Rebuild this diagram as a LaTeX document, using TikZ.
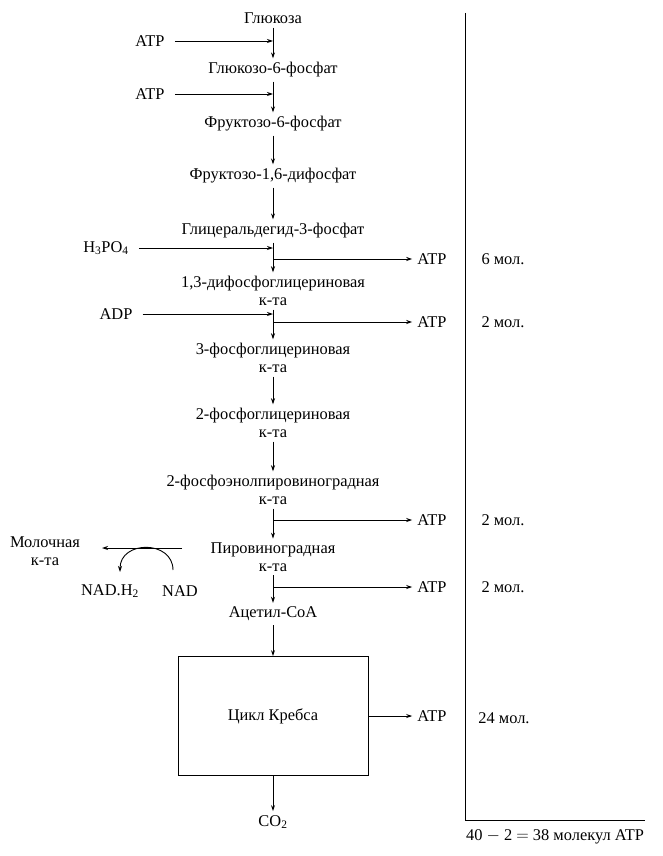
\documentclass[tikz,border=0pt]{standalone}
\usepackage{fontspec}
\setmainfont{Liberation Serif}
\usetikzlibrary{arrows.meta}
\begin{document}
\begin{tikzpicture}[x=1pt, y=-1pt, >={Stealth[length=6pt,width=4pt]},
				    met/.style={font=\fontsize{16.4}{17.5}\selectfont, align=center,
				    			  inner sep=1pt, text=black},
				    flow/.style={->, line width=0.9pt, shorten >=3pt, shorten <=3pt},
				    feed/.style={->, line width=0.9pt}]
	\useasboundingbox (0,0) rectangle (662,856);
	% main chain
	\node[met] (glc)  at (273, 18) {Глюкоза};
	\node[met] (g6p)  at (273, 70) {Глюкозо-6-фосфат};
	\node[met] (f6p)  at (273,124) {Фруктозо-6-фосфат};
	\node[met] (fdp)  at (273,176) {Фруктозо-1,6-дифосфат};
	\node[met] (gap)  at (273,231) {Глицеральдегид-3-фосфат};
	\node[met] (bpg)  at (273,291) {1,3-дифосфоглицериновая\\к-та};
	\node[met] (pg3)  at (273,358) {3-фосфоглицериновая\\к-та};
	\node[met] (pg2)  at (273,423) {2-фосфоглицериновая\\к-та};
	\node[met] (pep)  at (273,490) {2-фосфоэнолпировиноградная\\к-та};
	\node[met] (pyr)  at (273,557) {Пировиноградная\\к-та};
	\node[met] (acoa) at (273,614) {Ацетил-CoA};
	\node[met, draw, line width=0.9pt, minimum width=190pt, minimum height=119pt]
		(krebs) at (273,716) {Цикл Кребса};
	\node[met] (co2)  at (273,822) {CO\textsubscript{2}};
	% inputs
	\node[met] (atpa) at (150, 41) {ATP};
	\node[met] (atpb) at (150, 94) {ATP};
	\node[met] (h3po) at (106,248) {H\textsubscript{3}PO\textsubscript{4}};
	\node[met] (adp)  at (116,314) {ADP};
	\coordinate (ja) at (273, 41);
	\coordinate (jb) at (273, 94);
	\coordinate (jc) at (273,248);
	\coordinate (jd) at (273,314);
	% outputs
	\coordinate (oc) at (273,259);
	\coordinate (od) at (273,322);
	\coordinate (oe) at (273,520);
	\coordinate (of) at (273,587);
	\node[met] (atpc) at (432,259) {ATP};
	\node[met] (atpd) at (432,322) {ATP};
	\node[met] (atpe) at (432,520) {ATP};
	\node[met] (atpf) at (432,587) {ATP};
	\node[met] (atpg) at (432,716) {ATP};
	% lactate branch
	\node[met] (lac)  at (45,551) {Молочная\\к-та};
	\node[met] (nadh) at (110,591) {NAD.H\textsubscript{2}};
	\node[met] (nad)  at (180,591) {NAD};
	\coordinate (lacs) at (182,548);
	\coordinate (lace) at (102,548);
	\coordinate (nads) at (173,570);
	\coordinate (nadhe) at (120,572);
	% balance
	\node[met] (m6)  at (503,259) {6 мол.};
	\node[met] (m2a) at (503,322) {2 мол.};
	\node[met] (m2b) at (503,520) {2 мол.};
	\node[met] (m2c) at (503,587) {2 мол.};
	\node[met] (m24) at (504,718) {24 мол.};
	\node[met] (sum) at (555,837) {40 $-$ 2 $=$ 38 молекул ATP};
	\coordinate (bt) at (465, 13);
	\coordinate (bb) at (465,820);
	\coordinate (br) at (645,820);

	\path[flow] (glc)  edge (g6p)
				(g6p)  edge (f6p)
				(f6p)  edge (fdp)
				(fdp)  edge (gap)
				(gap)  edge (bpg)
				(bpg)  edge (pg3)
				(pg3)  edge (pg2)
				(pg2)  edge (pep)
				(pep)  edge (pyr)
				(pyr)  edge (acoa)
				(acoa) edge[shorten >=0pt] (krebs)
				(krebs) edge[shorten <=0pt] (co2);
	\path[feed, shorten <=9pt] (atpa) edge (ja)
				(atpb) edge (jb)
				(h3po) edge (jc)
				(adp)  edge (jd);
	\path[feed, shorten >=4pt] (oc) edge (atpc)
				(od)   edge (atpd)
				(oe)   edge (atpe)
				(of)   edge (atpf)
				(krebs) edge (atpg);
	\draw[feed] (lacs) -- (lace);
	\draw[feed] (nads) .. controls (173,540) and (120,540) .. (nadhe);
	\draw[line width=0.9pt] (bt) -- (bb) -- (br);
\end{tikzpicture}
\end{document}
